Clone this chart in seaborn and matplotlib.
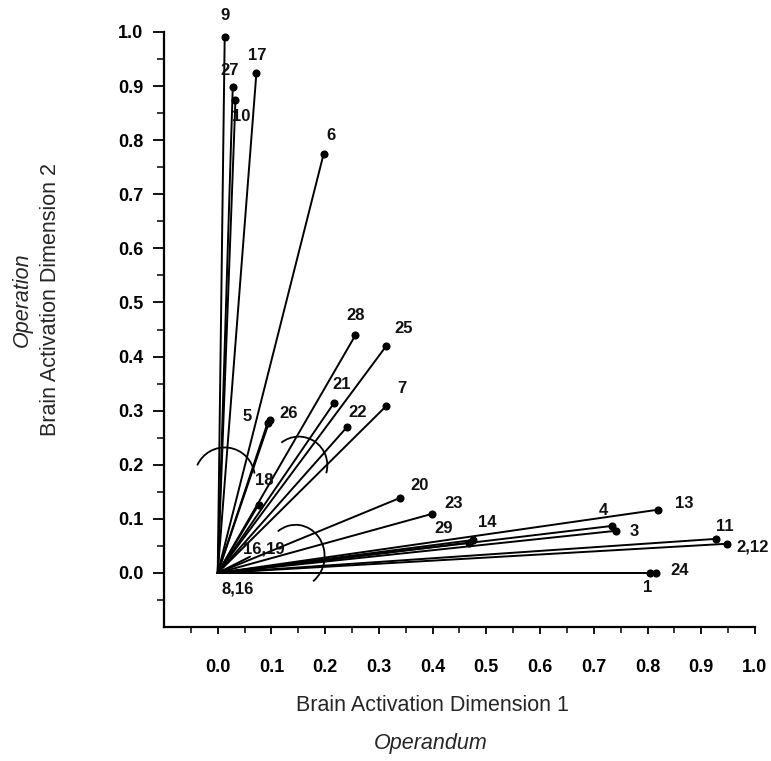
import numpy as np
import pandas as pd
import matplotlib
matplotlib.use("Agg")
import matplotlib.pyplot as plt
from matplotlib.patches import Arc
import seaborn as sns

# Vector end points (Dimension 1, Dimension 2) and their labels
labels = ["1", "2,12", "3", "4", "5", "6", "7", "9", "10", "11", "13", "14",
          "16,19", "17", "18", "20", "21", "22", "23", "24", "25", "26", "27",
          "28", "29", "8,16"]
dim1 = [0.805, 0.948, 0.742, 0.734, 0.093, 0.197, 0.314, 0.013, 0.033, 0.927,
        0.820, 0.476, 0.060, 0.072, 0.076, 0.340, 0.217, 0.240, 0.398, 0.816,
        0.314, 0.097, 0.028, 0.256, 0.468, 0.0]
dim2 = [0.0, 0.054, 0.078, 0.087, 0.278, 0.774, 0.309, 0.991, 0.874, 0.063,
        0.117, 0.061, 0.030, 0.924, 0.126, 0.139, 0.315, 0.269, 0.109, 0.0,
        0.420, 0.283, 0.898, 0.439, 0.056, 0.0]

# label offsets in pixels (dx, dy), y up
label_dx = [-3, 26, 18, -9, -21, 7, 15, 0, 6, 9, 26, 14, 14, 1, 6, 19, 7, 11,
            22, 24, 17, 19, -3, 0, -26, 20]
label_dy = [-15, -3, -1, 15, 6, 19, 17, 21, -16, 12, 6, 17, 8, 18, 24, 12, 18,
            15, 10, 2, 17, 6, 17, 20, 14, -16]
show_marker = [True] * 12 + [False] + [True] * 12 + [False]

# arcs: centre x, centre y, width, height, start angle, end angle
arc_cx = [0.013, 0.151, 0.145]
arc_cy = [0.176, 0.199, 0.031]
arc_w = [0.112, 0.106, 0.108]
arc_h = [0.112, 0.106, 0.116]
arc_t1 = [8, -16, -55]
arc_t2 = [156, 128, 126]

rows = []
for lab, x, y in zip(labels, dim1, dim2):
    rows.append({"vec": lab, "x": 0.0, "y": 0.0})
    rows.append({"vec": lab, "x": x, "y": y})
lines = pd.DataFrame(rows)
ends = pd.DataFrame({"vec": labels, "x": dim1, "y": dim2, "mark": show_marker})

sns.set_theme(style="ticks")
plt.rcParams["font.family"] = ["Liberation Sans", "DejaVu Sans"]

fig = plt.figure(figsize=(7.71, 7.61), dpi=100)
ax = fig.add_axes([0.2127, 0.176, 0.7665, 0.782])

sns.lineplot(data=lines, x="x", y="y", units="vec", estimator=None, sort=False,
             color="black", linewidth=1.4, ax=ax, legend=False)
sns.scatterplot(data=ends[ends["mark"]], x="x", y="y", color="black", s=34,
                edgecolor="black", linewidth=0, ax=ax, legend=False, zorder=3)

for lab, x, y, dx, dy in zip(labels, dim1, dim2, label_dx, label_dy):
    ax.annotate(lab, (x, y), xytext=(dx, dy), textcoords="offset pixels",
                ha="center", va="center", fontsize=12, fontweight="bold",
                color="#111111")

for cx, cy, w, h, t1, t2 in zip(arc_cx, arc_cy, arc_w, arc_h, arc_t1, arc_t2):
    ax.add_patch(Arc((cx, cy), w, h, theta1=t1, theta2=t2, color="black",
                     linewidth=1.3))

ax.set_xlim(-0.1, 1.0)
ax.set_ylim(-0.1, 1.0)
ticks = np.round(np.arange(0, 1.01, 0.1), 1)
ax.set_xticks(ticks)
ax.set_yticks(ticks)
ax.set_xticklabels([f"{t:.1f}" for t in ticks])
ax.set_yticklabels([f"{t:.1f}" for t in ticks])
minor = np.round(np.arange(-0.05, 1.0, 0.1), 2)
ax.set_xticks(minor, minor=True)
ax.set_yticks(minor, minor=True)
ax.tick_params(axis="x", which="major", length=5, width=1.3, pad=18,
               labelsize=13, colors="black")
ax.tick_params(axis="x", which="minor", length=4, width=1.3)
ax.tick_params(axis="y", which="major", length=8, width=1.3, pad=7,
               labelsize=13, colors="black")
ax.tick_params(axis="y", which="minor", length=5, width=1.3)
for t in ax.get_xticklabels() + ax.get_yticklabels():
    t.set_fontweight("bold")

sns.despine(ax=ax)
for side in ["left", "bottom"]:
    ax.spines[side].set_linewidth(1.6)
    ax.spines[side].set_color("black")

ax.set_xlabel("")
ax.set_ylabel("")
ax.text(0.455, -0.132, "Brain Activation Dimension 1", transform=ax.transAxes,
        ha="center", va="center", fontsize=15.5)
ax.text(0.452, -0.196, "Operandum", transform=ax.transAxes, ha="center",
        va="center", fontsize=15.5, style="italic")
ax.text(-0.192, 0.55, "Brain Activation Dimension 2", transform=ax.transAxes,
        ha="center", va="center", fontsize=15.5, rotation=90)
ax.text(-0.24, 0.55, "Operation", transform=ax.transAxes, ha="center",
        va="center", fontsize=15.5, style="italic", rotation=90)

fig.savefig("out.png", dpi=100)
